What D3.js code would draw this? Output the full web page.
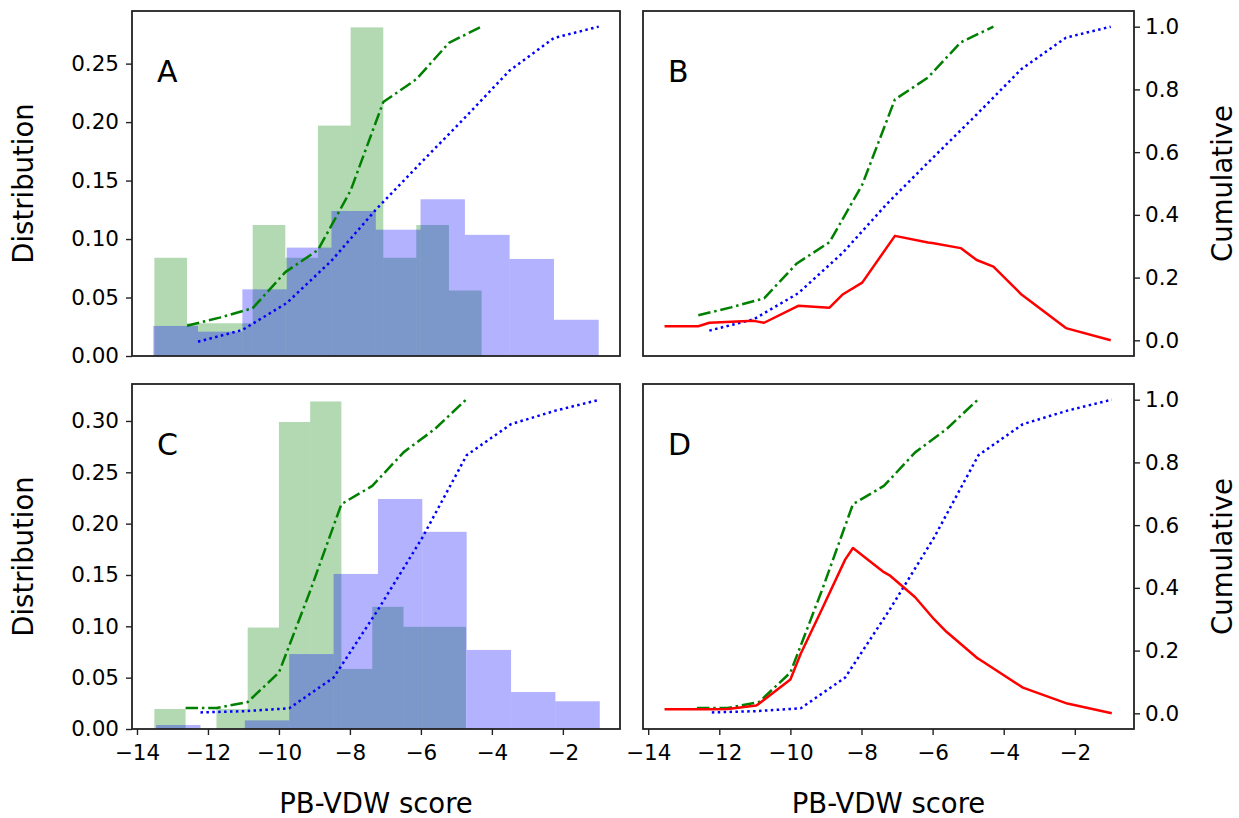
<!DOCTYPE html>
<html>
<head>
<meta charset="utf-8">
<script src="https://cdn.jsdelivr.net/npm/d3@7"></script>
<style>
  body { margin: 0; background: #ffffff; }
  svg { display: block; font-family: "DejaVu Sans", sans-serif; }
</style>
</head>
<body>
<svg id="chart" width="1239" height="818"></svg>
<script>
// ---------------- data ----------------
// Panels A/B
const greenEdgesA = [-13.51, -12.59, -11.67, -10.74, -9.82, -8.90, -7.98, -7.06, -6.13, -5.21, -4.29];
const greenHistA  = [0.084, 0.028, 0.028, 0.112, 0.084, 0.197, 0.281, 0.084, 0.112, 0.056];
const blueEdgesA  = [-13.54, -12.28, -11.03, -9.78, -8.52, -7.27, -6.01, -4.76, -3.50, -2.25, -0.99];
const blueHistA   = [0.0257, 0.0208, 0.057, 0.0927, 0.124, 0.108, 0.134, 0.1036, 0.083, 0.031];
const greenCumA   = [0.08, 0.105, 0.134, 0.245, 0.313, 0.496, 0.768, 0.838, 0.95, 1.0];
const blueCumA    = [0.031, 0.067, 0.15, 0.28, 0.437, 0.58, 0.72, 0.865, 0.965, 1.0];
const redXB = [-13.54, -12.59, -12.28, -11.03, -10.74, -9.78, -8.90, -8.52, -7.98, -7.06, -6.13, -6.01, -5.21, -4.76, -4.29, -3.50, -2.25, -0.99];
const redYB = [0.045, 0.045, 0.056, 0.062, 0.056, 0.110, 0.104, 0.147, 0.184, 0.333, 0.312, 0.31, 0.294, 0.256, 0.235, 0.146, 0.039, 0.0];

// Panels C/D
const greenEdgesC = [-13.51, -12.63, -11.76, -10.88, -10.00, -9.12, -8.24, -7.37, -6.49, -5.61, -4.73];
const greenHistC  = [0.0195, 0, 0.0195, 0.0988, 0.299, 0.319, 0.0585, 0.119, 0.0995, 0.0995];
const blueEdgesC  = [-13.46, -12.21, -10.96, -9.71, -8.46, -7.21, -5.96, -4.71, -3.46, -2.21, -0.96];
const blueHistC   = [0.0039, 0, 0.0084, 0.073, 0.151, 0.224, 0.192, 0.077, 0.036, 0.027];
const greenCumC   = [0.017, 0.017, 0.036, 0.13, 0.39, 0.667, 0.725, 0.832, 0.906, 1.0];
const blueCumC    = [0.003, 0.007, 0.016, 0.114, 0.33, 0.56, 0.823, 0.922, 0.965, 1.0];
const redXD = [-13.54, -12.63, -12.21, -11.76, -10.96, -10.88, -10.00, -9.71, -9.12, -8.46, -8.24, -7.37, -7.21, -6.49, -5.96, -5.61, -4.73, -4.71, -3.46, -2.21, -0.96];
const redYD = [0.013, 0.013, 0.013, 0.014, 0.025, 0.031, 0.108, 0.19, 0.33, 0.49, 0.527, 0.45, 0.44, 0.37, 0.30, 0.26, 0.175, 0.174, 0.082, 0.031, 0.0];

// ticks / labels
const xTicks = [-14, -12, -10, -8, -6, -4, -2];
const distTicksA = [0, 0.05, 0.10, 0.15, 0.20, 0.25];
const distTicksC = [0, 0.05, 0.10, 0.15, 0.20, 0.25, 0.30];
const cumTicks = [0, 0.2, 0.4, 0.6, 0.8, 1.0];
const panelLetters = ["A", "B", "C", "D"];
const xLabel = "PB-VDW score";
const yLabelLeft = "Distribution";
const yLabelRight = "Cumulative";

// ---------------- layout ----------------
const svg = d3.select("#chart");
svg.append("rect").attr("width", 1239).attr("height", 818).attr("fill", "#fff");

const L = { A: {x: 132, y: 11, w: 488, h: 345}, B: {x: 643, y: 11, w: 491, h: 345},
            C: {x: 132, y: 384, w: 488, h: 345}, D: {x: 643, y: 384, w: 491, h: 345} };

const xLeft = d3.scaleLinear().domain([-14.14, -0.39]);
const xRight = d3.scaleLinear().domain([-14.146, -0.335]);

const GREEN = "#008000", BLUE = "#0000ff", RED = "#ff0000";
const tickFont = 21.5;
const LW = 2.5;

function panel(key) {
  const p = L[key];
  const g = svg.append("g").attr("transform", `translate(${p.x},${p.y})`);
  return { g, p };
}

function drawHist(g, x, y, edges, vals, color) {
  g.append("g").selectAll("rect").data(vals).join("rect")
    .attr("x", (d, i) => x(edges[i]))
    .attr("width", (d, i) => x(edges[i + 1]) - x(edges[i]))
    .attr("y", d => y(d))
    .attr("height", d => y(0) - y(d))
    .attr("fill", color)
    .attr("fill-opacity", 0.3);
}

function drawLine(g, x, y, xs, ys, color, dash) {
  const line = d3.line().x(d => x(d[0])).y(d => y(d[1]));
  const path = g.append("path")
    .datum(xs.map((v, i) => [v, ys[i]]))
    .attr("d", line)
    .attr("fill", "none")
    .attr("stroke", color)
    .attr("stroke-width", LW)
    .attr("stroke-linejoin", "round");
  if (dash) path.attr("stroke-dasharray", dash);
}

function frame(g, p) {
  g.append("rect").attr("x", 0).attr("y", 0).attr("width", p.w).attr("height", p.h)
    .attr("fill", "none").attr("stroke", "#222").attr("stroke-width", 1.8);
}

function styleAxis(ax) {
  ax.select(".domain").remove();
  ax.selectAll(".tick line").attr("stroke", "#222").attr("stroke-width", 1.4);
  ax.selectAll(".tick text").attr("font-size", tickFont).attr("fill", "#000")
    .attr("font-family", "DejaVu Sans, sans-serif");
}

const DASHDOT = "12.5,3.8,2.5,3.8";
const DOT = "2.5,3.4";

// ---------- Panel A ----------
{
  const { g, p } = panel("A");
  const x = xLeft.copy().range([0, p.w]);
  const y = d3.scaleLinear().domain([0, 0.295]).range([p.h, 0]);
  const yc = d3.scaleLinear().domain([-0.013, 1.048]).range([p.h, 0]);
  drawHist(g, x, y, greenEdgesA, greenHistA, GREEN);
  drawHist(g, x, y, blueEdgesA, blueHistA, BLUE);
  drawLine(g, x, yc, greenEdgesA.slice(1), greenCumA, GREEN, DASHDOT);
  drawLine(g, x, yc, blueEdgesA.slice(1), blueCumA, BLUE, DOT);
  frame(g, p);
  const ax = g.append("g").call(d3.axisLeft(y).tickValues(distTicksA).tickFormat(d3.format(".2f")).tickSize(6).tickPadding(7));
  styleAxis(ax);
  g.append("text").attr("x", 25).attr("y", 71).attr("font-size", 30).text(panelLetters[0]);
}

// ---------- Panel B ----------
{
  const { g, p } = panel("B");
  const x = xRight.copy().range([0, p.w]);
  const yc = d3.scaleLinear().domain([-0.05, 1.05]).range([p.h, 0]);
  drawLine(g, x, yc, greenEdgesA.slice(1), greenCumA, GREEN, DASHDOT);
  drawLine(g, x, yc, blueEdgesA.slice(1), blueCumA, BLUE, DOT);
  drawLine(g, x, yc, redXB, redYB, RED, null);
  frame(g, p);
  const ax = g.append("g").attr("transform", `translate(${p.w},0)`)
    .call(d3.axisRight(yc).tickValues(cumTicks).tickFormat(d3.format(".1f")).tickSize(6).tickPadding(5));
  styleAxis(ax);
  g.append("text").attr("x", 25).attr("y", 71).attr("font-size", 30).text(panelLetters[1]);
}

// ---------- Panel C ----------
{
  const { g, p } = panel("C");
  const x = xLeft.copy().range([0, p.w]);
  const y = d3.scaleLinear().domain([0, 0.336]).range([p.h, 0]);
  const yc = d3.scaleLinear().domain([-0.05, 1.05]).range([p.h, 0]);
  drawHist(g, x, y, greenEdgesC, greenHistC, GREEN);
  drawHist(g, x, y, blueEdgesC, blueHistC, BLUE);
  drawLine(g, x, yc, greenEdgesC.slice(1), greenCumC, GREEN, DASHDOT);
  drawLine(g, x, yc, blueEdgesC.slice(1), blueCumC, BLUE, DOT);
  frame(g, p);
  const ay = g.append("g").call(d3.axisLeft(y).tickValues(distTicksC).tickFormat(d3.format(".2f")).tickSize(6).tickPadding(7));
  styleAxis(ay);
  const ax = g.append("g").attr("transform", `translate(0,${p.h})`)
    .call(d3.axisBottom(x).tickValues(xTicks).tickFormat(d3.format("d")).tickSize(6).tickPadding(10));
  styleAxis(ax);
  g.append("text").attr("x", 25).attr("y", 71).attr("font-size", 30).text(panelLetters[2]);
}

// ---------- Panel D ----------
{
  const { g, p } = panel("D");
  const x = xRight.copy().range([0, p.w]);
  const yc = d3.scaleLinear().domain([-0.05, 1.05]).range([p.h, 0]);
  drawLine(g, x, yc, greenEdgesC.slice(1), greenCumC, GREEN, DASHDOT);
  drawLine(g, x, yc, blueEdgesC.slice(1), blueCumC, BLUE, DOT);
  drawLine(g, x, yc, redXD, redYD, RED, null);
  frame(g, p);
  const ay = g.append("g").attr("transform", `translate(${p.w},0)`)
    .call(d3.axisRight(yc).tickValues(cumTicks).tickFormat(d3.format(".1f")).tickSize(6).tickPadding(5));
  styleAxis(ay);
  const ax = g.append("g").attr("transform", `translate(0,${p.h})`)
    .call(d3.axisBottom(x).tickValues(xTicks).tickFormat(d3.format("d")).tickSize(6).tickPadding(10));
  styleAxis(ax);
  g.append("text").attr("x", 25).attr("y", 71).attr("font-size", 30).text(panelLetters[3]);
}

// ---------- axis titles ----------
const titleSize = 27.5;
[[L.A], [L.C]].forEach(([p]) => {
  svg.append("text")
    .attr("transform", `translate(33,${p.y + p.h / 2}) rotate(-90)`)
    .attr("text-anchor", "middle").attr("font-size", titleSize).text(yLabelLeft);
});
[[L.B], [L.D]].forEach(([p]) => {
  svg.append("text")
    .attr("transform", `translate(1232,${p.y + p.h / 2}) rotate(-90)`)
    .attr("text-anchor", "middle").attr("font-size", titleSize).text(yLabelRight);
});
[[L.C], [L.D]].forEach(([p]) => {
  svg.append("text")
    .attr("x", p.x + p.w / 2).attr("y", 813)
    .attr("text-anchor", "middle").attr("font-size", titleSize).text(xLabel);
});
</script>
</body>
</html>
